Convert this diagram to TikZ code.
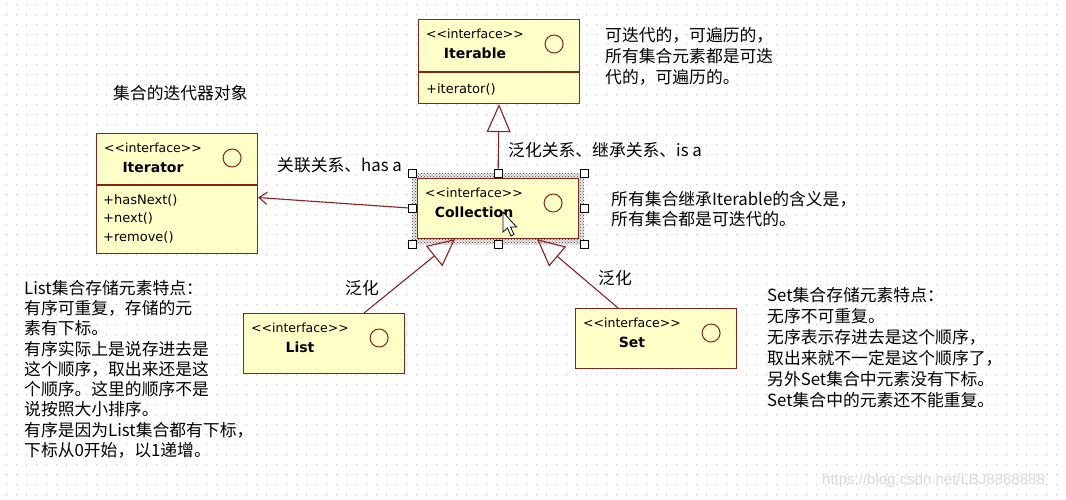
\documentclass[tikz,border=0pt]{standalone}
\usepackage{fontspec}
\newfontfamily\cjk{Noto Sans CJK SC}
\newfontfamily\dv{DejaVu Sans}
\newfontfamily\lib{Liberation Sans}
\usetikzlibrary{arrows.meta,patterns}
\definecolor{ubfill}{RGB}{255,255,200}
\definecolor{ubline}{RGB}{135,35,30}
\definecolor{griddot}{RGB}{205,205,205}
\tikzset{
  ubox/.style={draw=ubline, fill=ubfill, line width=1.1pt, minimum width=161, inner sep=0, anchor=north west},
  stereo/.style={anchor=west, inner sep=0, font=\dv\fontsize{12.5}{14}\selectfont},
  cname/.style={inner sep=0, font=\dv\bfseries\fontsize{14}{16}\selectfont},
  member/.style={anchor=west, inner sep=0, font=\dv\fontsize{13}{15}\selectfont},
  note/.style={anchor=west, inner sep=0, font=\cjk\fontsize{16.8}{20}\selectfont},
  conn/.style={draw=ubline, line width=1.1pt},
  handle/.style={draw=black, fill=white, line width=0.8pt, minimum size=8, inner sep=0},
}
\newcommand\uifc[5]{%
  \node[ubox, minimum height=#4] (#1) at (#2,#3) {};
  \node[stereo] (#1-st) at ([shift={(8,15)}]#1.north west) {{<}{<}interface{>}{>}};
  \node[cname] (#1-nm) at ([yshift=-19pt]#1-st.center) {#5};
  \draw[ubline, line width=1pt] ([shift={(-26,25)}]#1.north east) circle[radius=9];
}
\begin{document}
\begin{tikzpicture}[x=1pt,y=-1pt]
\useasboundingbox (0,0) rectangle (1066,499);
\fill[white] (0,0) rectangle (1066,499);
% dotted grid
\fill[griddot] \foreach \x in {6,16,...,1066}{\foreach \y in {4,14,...,499}{(\x,\y) rectangle ++(1.3,1.3)}};

% selection shading of Collection
\fill[gray!18] (412,173) rectangle (584,244);
\fill[pattern=crosshatch dots, pattern color=black!75] (412,173) rectangle (584,244);

% boxes
\uifc{iterable}{418}{19}{84}{Iterable}
\draw[ubline, line width=1.1pt] ([yshift=-53pt]iterable.north west) -- ([yshift=-53pt]iterable.north east);
\node[member] (it-m1) at (426,89) {+iterator()};

\uifc{iterator}{96}{133}{120}{Iterator}
\draw[ubline, line width=1.1pt] ([yshift=-52pt]iterator.north west) -- ([yshift=-52pt]iterator.north east);
\node[member] (ir-m1) at (103,200) {+hasNext()};
\node[member] (ir-m2) at (103,218) {+next()};
\node[member] (ir-m3) at (103,237) {+remove()};

\uifc{collection}{417}{178}{60}{Collection}
\uifc{list}{243}{313}{60}{List}
\uifc{set}{575}{308}{60}{Set}

% connectors
\draw[conn, -{Triangle[open, length=28pt, width=24pt]}] (collection.north) -- (iterable.south);
\draw[conn, -{Straight Barb[length=8pt, width=12pt]}] (collection.west) -- ([yshift=-4pt]iterator.east);
\draw[conn, -{Triangle[open, length=27pt, width=26pt]}] ([xshift=40pt]list.north) -- ([xshift=-43pt]collection.south);
\draw[conn, -{Triangle[open, length=27pt, width=26pt]}] ([xshift=-38pt]set.north) -- ([xshift=39pt]collection.south);

% selection handles
\foreach \hx/\hy [count=\k] in {412/173,498/173,584/173,412/208,584/208,412/244,498/244,584/244}
  \node[handle] (h\k) at (\hx,\hy) {};

% mouse cursor
\filldraw[fill=white, draw=black, line width=0.8pt]
  (503,212) -- (503,232) -- (507.5,228) -- (511,236) -- (514,234.5) -- (510.5,227) -- (516.5,227) -- cycle;

% labels
\node[note] (lb-iter) at (113,93) {集合的迭代器对象};
\node[note] (lb-gen) at (508,150) {泛化关系、继承关系、is a};
\node[note] (lb-has) at (277,165) {关联关系、has a};
\node[note] (lb-fh1) at (345,288) {泛化};
\node[note] (lb-fh2) at (598,278) {泛化};

\foreach \t [count=\i] in {可迭代的，可遍历的，,所有集合元素都是可迭,代的，可遍历的。}
  \node[note] (n1-\i) at (605,{14+21*\i}) {\t};
\foreach \t [count=\i] in {所有集合继承Iterable的含义是，,所有集合都是可迭代的。}
  \node[note] (n2-\i) at (611,{179+20*\i}) {\t};
\foreach \t [count=\i] in {List集合存储元素特点：,有序可重复，存储的元,素有下标。,有序实际上是说存进去是,这个顺序，取出来还是这,个顺序。这里的顺序不是,说按照大小排序。,有序是因为List集合都有下标，,下标从0开始，以1递增。}
  \node[note] (n3-\i) at (24,{267.5+20.3*\i}) {\t};
\foreach \t [count=\i] in {Set集合存储元素特点：,无序不可重复。,无序表示存进去是这个顺序，,取出来就不一定是这个顺序了，,另外Set集合中元素没有下标。,Set集合中的元素还不能重复。}
  \node[note] (n4-\i) at (767,{274+21*\i}) {\t};

% watermark
\node[anchor=west, inner sep=0, text=gray!30, font=\lib\fontsize{15}{17}\selectfont] (wm) at (822,481) {https://blog.csdn.net/LBJ8888888};
\end{tikzpicture}
\end{document}
